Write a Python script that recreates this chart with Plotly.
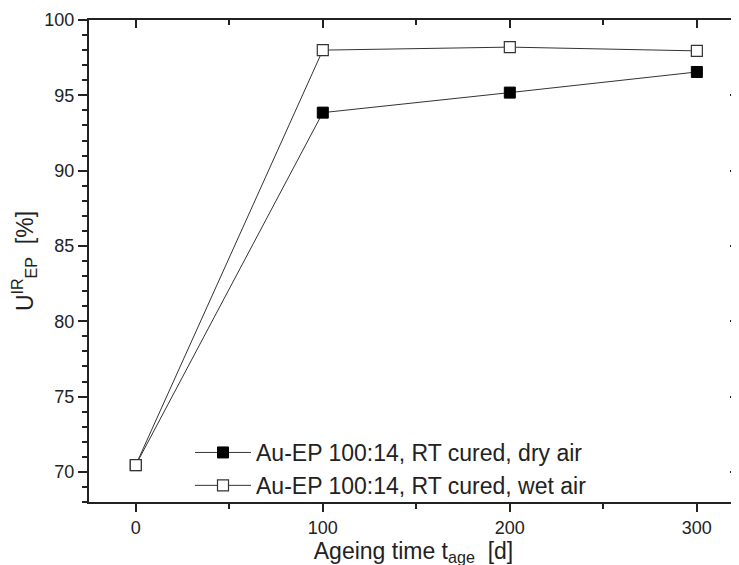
import plotly.graph_objects as go

t_age = [0, 100, 200, 300]
dry_air = [70.45, 93.85, 95.18, 96.55]
wet_air = [70.45, 98.0, 98.2, 97.95]
name_dry = "Au-EP 100:14, RT cured, dry air"
name_wet = "Au-EP 100:14, RT cured, wet air"

fig = go.Figure()
fig.add_trace(go.Scatter(x=t_age, y=dry_air, name=name_dry, mode="lines+markers",
                         line=dict(color="#333333", width=1),
                         marker=dict(symbol="square", size=11, color="black",
                                     line=dict(color="black", width=1))))
fig.add_trace(go.Scatter(x=t_age, y=wet_air, name=name_wet, mode="lines+markers",
                         line=dict(color="#333333", width=1),
                         marker=dict(symbol="square", size=11, color="white",
                                     line=dict(color="#333333", width=1.2))))

font = "Liberation Sans, Arial, sans-serif"
# page body has an 8px margin, compensate in figure margins
PW, PH = 649, 482
fig.update_layout(
    width=739, height=565,
    margin=dict(l=81, r=9, t=12, b=71),
    paper_bgcolor="white", plot_bgcolor="white",
    font=dict(family=font, color="#222222", size=18),
    showlegend=True,
    legend=dict(x=(190 - 89) / PW, y=(502 - 431) / PH, xanchor="left", yanchor="top",
                bgcolor="rgba(0,0,0,0)", font=dict(size=23), tracegroupgap=0,
                itemwidth=56),
    xaxis=dict(range=[-25, 322], tickvals=[0, 100, 200, 300], ticks="outside",
               ticklen=8, tickwidth=2, tickcolor="#222", showline=True,
               linecolor="#222", linewidth=2, mirror=True, showgrid=False,
               zeroline=False, tickfont=dict(size=18), automargin=False,
               minor=dict(tickvals=[50, 150, 250], ticks="outside", ticklen=5,
                          tickwidth=2, tickcolor="#222"),
               title=dict(text="Ageing time t<sub>age</sub>  [d]", font=dict(size=23),
                          standoff=3)),
    xaxis2=dict(range=[-25, 322], overlaying="x", side="top",
                tickvals=[0, 100, 200, 300], ticks="inside", ticklen=8,
                tickwidth=2, tickcolor="#222", showticklabels=False,
                showgrid=False, zeroline=False, automargin=False,
                minor=dict(tickvals=[50, 150, 250], ticks="inside", ticklen=5,
                           tickwidth=2, tickcolor="#222")),
    yaxis=dict(range=[68, 100], tickvals=[70, 75, 80, 85, 90, 95, 100],
               ticks="outside", ticklen=9, tickwidth=2, tickcolor="#222",
               showline=True, linecolor="#222", linewidth=2, mirror=True,
               showgrid=False, zeroline=False, tickfont=dict(size=18),
               automargin=False,
               minor=dict(dtick=1, ticks="outside", ticklen=5, tickwidth=2,
                          tickcolor="#222"),
               title=dict(text="U<sup>IR</sup><sub>EP</sub>  [%]", font=dict(size=23),
                          standoff=10)),
    yaxis2=dict(range=[68, 100], overlaying="y", side="right",
                tickvals=[70, 75, 80, 85, 90, 95, 100], ticks="inside",
                ticklen=8, tickwidth=2, tickcolor="#222", showticklabels=False,
                showgrid=False, zeroline=False, automargin=False,
                minor=dict(dtick=1, ticks="inside", ticklen=5, tickwidth=2,
                           tickcolor="#222")),
)
fig.add_trace(go.Scatter(x=[None], y=[None], xaxis="x2", yaxis="y2",
                         showlegend=False, hoverinfo="skip"))

fig.write_html("out.html")
